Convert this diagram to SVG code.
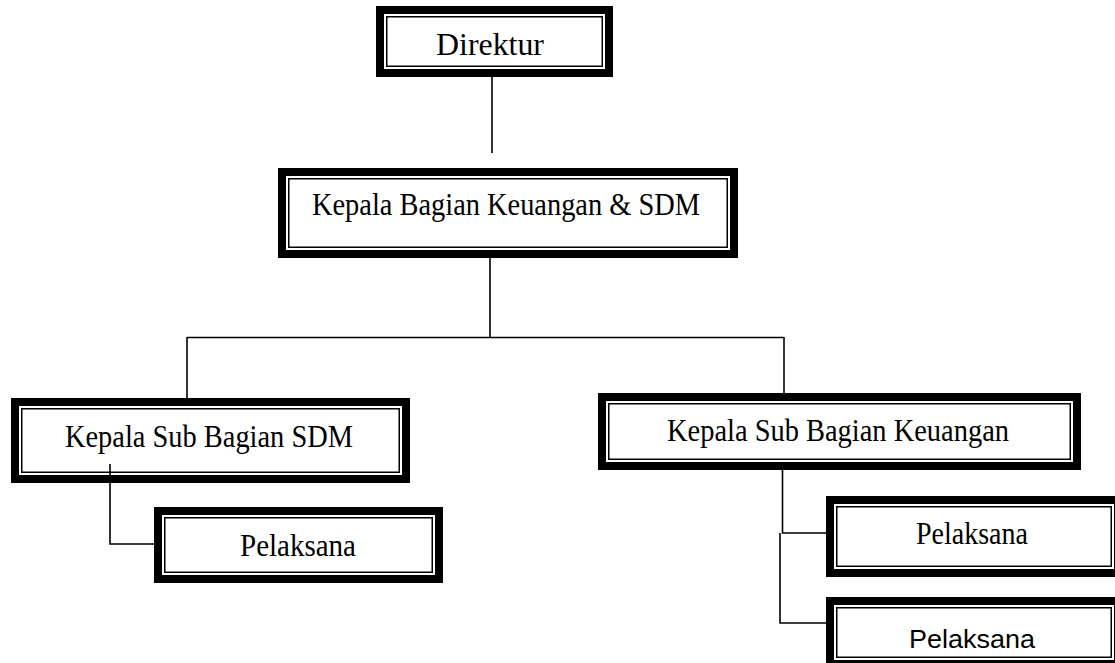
<svg xmlns="http://www.w3.org/2000/svg" width="1115" height="663" viewBox="0 0 1115 663">
<style>
.outer{fill:#fff;stroke:#000;stroke-width:8}
.inner{fill:none;stroke:#000;stroke-width:1.5}
.t{font-family:"Liberation Serif","Times New Roman",serif;font-size:31px;fill:#000}
.s{font-family:"Liberation Sans",Arial,sans-serif;font-size:26px;fill:#000}
.c{fill:none;stroke:#000;stroke-width:1.6}
</style>
<rect width="1115" height="663" fill="#fff"/>
<g id="direktur">
<rect class="outer" x="380" y="10" width="229" height="63"/>
<rect class="inner" x="386.75" y="16.75" width="215.5" height="49.5"/>
<text class="t" x="436" y="55" textLength="108" lengthAdjust="spacingAndGlyphs">Direktur</text>
</g>
<g id="kabag">
<rect class="outer" x="282" y="172" width="452" height="82"/>
<rect class="inner" x="288.75" y="178.75" width="438.5" height="68.5"/>
<text class="t" x="312" y="215" textLength="388" lengthAdjust="spacingAndGlyphs">Kepala Bagian Keuangan &amp; SDM</text>
</g>
<g id="kasubag-sdm">
<rect class="outer" x="15" y="402" width="391" height="77"/>
<rect class="inner" x="21.75" y="408.75" width="377.5" height="63.5"/>
<text class="t" x="65" y="447" textLength="288" lengthAdjust="spacingAndGlyphs">Kepala Sub Bagian SDM</text>
</g>
<g id="kasubag-keu">
<rect class="outer" x="602" y="397" width="475" height="69"/>
<rect class="inner" x="608.75" y="403.75" width="461.5" height="55.5"/>
<text class="t" x="667" y="441" textLength="342" lengthAdjust="spacingAndGlyphs">Kepala Sub Bagian Keuangan</text>
</g>
<g id="pelaksana-sdm">
<rect class="outer" x="158" y="511" width="281" height="68"/>
<rect class="inner" x="164.75" y="517.75" width="267.5" height="54.5"/>
<text class="t" x="240" y="556" textLength="116" lengthAdjust="spacingAndGlyphs">Pelaksana</text>
</g>
<g id="pelaksana-keu-1">
<rect class="outer" x="830" y="500" width="288" height="73"/>
<rect class="inner" x="836.75" y="506.75" width="274.5" height="59.5"/>
<text class="t" x="916" y="544" textLength="112" lengthAdjust="spacingAndGlyphs">Pelaksana</text>
</g>
<g id="pelaksana-keu-2">
<rect class="outer" x="830" y="601" width="288" height="63"/>
<rect class="inner" x="836.75" y="607.75" width="274.5" height="49.5"/>
<text class="s" x="909" y="648" textLength="126" lengthAdjust="spacingAndGlyphs">Pelaksana</text>
</g>
<g id="connectors">
<path class="c" d="M492 77 V153"/>
<path class="c" d="M490 258 V337"/>
<path class="c" d="M187 337.5 H784"/>
<path class="c" d="M187 337 V398"/>
<path class="c" d="M784 337 V393"/>
<path class="c" d="M110 464 V544 H154"/>
<path class="c" d="M782.5 470 V533 H826"/>
<path class="c" d="M780 533 V623 H826"/>
</g>
</svg>
